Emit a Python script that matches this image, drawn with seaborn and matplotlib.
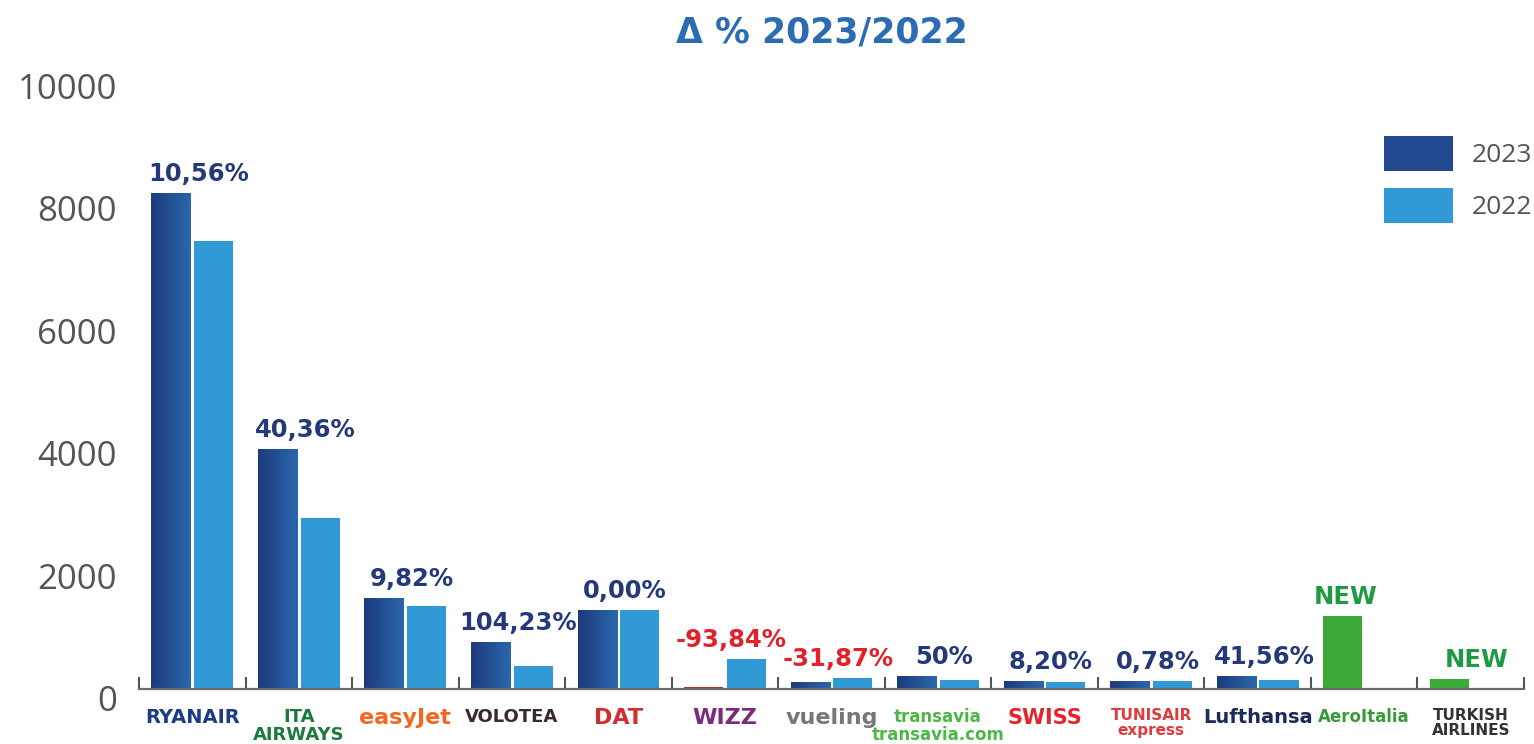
import numpy as np
import pandas as pd
import seaborn as sns
import matplotlib.pyplot as plt
from matplotlib.colors import LinearSegmentedColormap
from matplotlib.transforms import ScaledTranslation

# Data
airlines = ["RYANAIR", "ITA\nAIRWAYS", "easyJet", "VOLOTEA", "DAT", "WIZZ", "vueling",
            "transavia\ntransavia.com", "SWISS", "TUNISAIR\nexpress", "Lufthansa",
            "AeroItalia", "TURKISH\nAIRLINES"]
pax_2023 = [8100, 3920, 1490, 770, 1290, 30, 119, 210, 129, 128, 217, 1193, 163]
pax_2022 = [7320, 2795, 1357, 377, 1290, 490, 175, 140, 119, 127, 153, np.nan, np.nan]
delta_labels = ["10,56%", "40,36%", "9,82%", "104,23%", "0,00%", "-93,84%", "-31,87%",
                "50%", "8,20%", "0,78%", "41,56%", "NEW", "NEW"]
years = ["2023", "2022"]

df = pd.DataFrame({
    "airline": airlines * 2,
    "year": ["2023"] * len(airlines) + ["2022"] * len(airlines),
    "pax": pax_2023 + pax_2022,
}).dropna()

# colours / styles
navy = "#25397a"
red = "#e2222a"
green_txt = "#1f9a43"
green_bar = "#3aa935"
brand_colors = ["#1b3c87", "#1c7a3c", "#f26722", "#3a2a2a", "#d32d2f", "#7b2a7e", "#777777",
                "#4cb748", "#e1262d", "#e03a3e", "#1b2a5a", "#3a9a3a", "#333333"]
brand_sizes = [14, 13, 16, 13, 16, 16, 16, 12, 15, 11, 14, 12, 11]
label_dx = [0, 0, 0, 0, 0, 0, 0, 0, 0, 0, 0, -18, 0]  # points

sns.set_theme(style="white")
plt.rcParams["font.family"] = ["DejaVu Sans"]

fig = plt.figure(figsize=(15.34, 7.44), dpi=100)
ax = fig.add_axes([139 / 1534, 55 / 744, 1385 / 1534, 612 / 744])

sns.barplot(data=df, x="airline", y="pax", hue="year", hue_order=years, order=airlines,
            palette={"2023": "#22498f", "2022": "#2f9ad6"}, saturation=1,
            width=0.8, gap=0.08, errorbar=None, linewidth=0, ax=ax)

# 2023 bars: gradient navy, red for Wizz, green for new routes
cmap = LinearSegmentedColormap.from_list("navy", ["#1d3a7c", "#2a67ad"])
grad = np.linspace(0, 1, 64).reshape(1, -1)
for i, bar in enumerate(ax.containers[0]):
    if delta_labels[i] == "NEW":
        bar.set_facecolor(green_bar)
    elif delta_labels[i].startswith("-9"):
        bar.set_facecolor("#c0282d")
    else:
        x0, w, h = bar.get_x(), bar.get_width(), bar.get_height()
        im = ax.imshow(grad, cmap=cmap, extent=[x0, x0 + w, 0, h], aspect="auto",
                       origin="lower", zorder=bar.get_zorder() + 0.1)
        im.set_clip_path(bar)

ax.set_xlim(-0.5, len(airlines) - 0.5)
ax.set_ylim(0, 10000)

# percentage labels above each group
for i, lab in enumerate(delta_labels):
    top = np.nanmax([pax_2023[i], pax_2022[i]])
    col = green_txt if lab == "NEW" else (red if lab.startswith("-") else navy)
    ax.annotate(lab, (i + 0.06, top), xytext=(label_dx[i], 5), textcoords="offset points",
                ha="center", va="bottom", fontsize=17.5, fontweight="bold", color=col)

# axes styling
sns.despine(ax=ax, left=True)
ax.spines["bottom"].set_color("#6b6b6b")
ax.spines["bottom"].set_linewidth(1.6)
ax.set_xlabel("")
ax.set_ylabel("")
ax.set_yticks(range(0, 10001, 2000))
ax.tick_params(axis="y", length=0, pad=16, labelsize=25, labelcolor="#555555")
for t in ax.get_yticklabels():
    t.set_family("Open Sans")
    t.set_transform(t.get_transform() + ScaledTranslation(0, -9 / 100, fig.dpi_scale_trans))

ax.set_xticks(range(len(airlines)))
ax.set_xticklabels(airlines)
ax.set_xticks(np.arange(-0.5, len(airlines)), minor=True)
ax.tick_params(axis="x", which="major", length=0, pad=14)
ax.tick_params(axis="x", which="minor", bottom=True, direction="in", length=9,
               width=1.5, color="#555555")
for t, c, s in zip(ax.get_xticklabels(), brand_colors, brand_sizes):
    t.set_color(c)
    t.set_fontsize(s)
    t.set_fontweight("bold")
    t.set_linespacing(1.0)

# legend
handles, labels = ax.get_legend_handles_labels()
ax.get_legend().remove()
leg = fig.legend(handles, labels, loc="upper right", bbox_to_anchor=(1532 / 1534, 1 - 136 / 744),
                 frameon=False, borderpad=0, borderaxespad=0, handlelength=2.6, handleheight=1.67,
                 labelspacing=0.64, handletextpad=0.72,
                 prop={"family": "Open Sans", "size": 19})
for t in leg.get_texts():
    t.set_color("#555555")

fig.text(822 / 1534, 1 - 32 / 744, "Δ % 2023/2022", ha="center", va="center",
         fontsize=25, fontweight="bold", color="#2b6cb4")

plt.savefig("out.png", dpi=100)
